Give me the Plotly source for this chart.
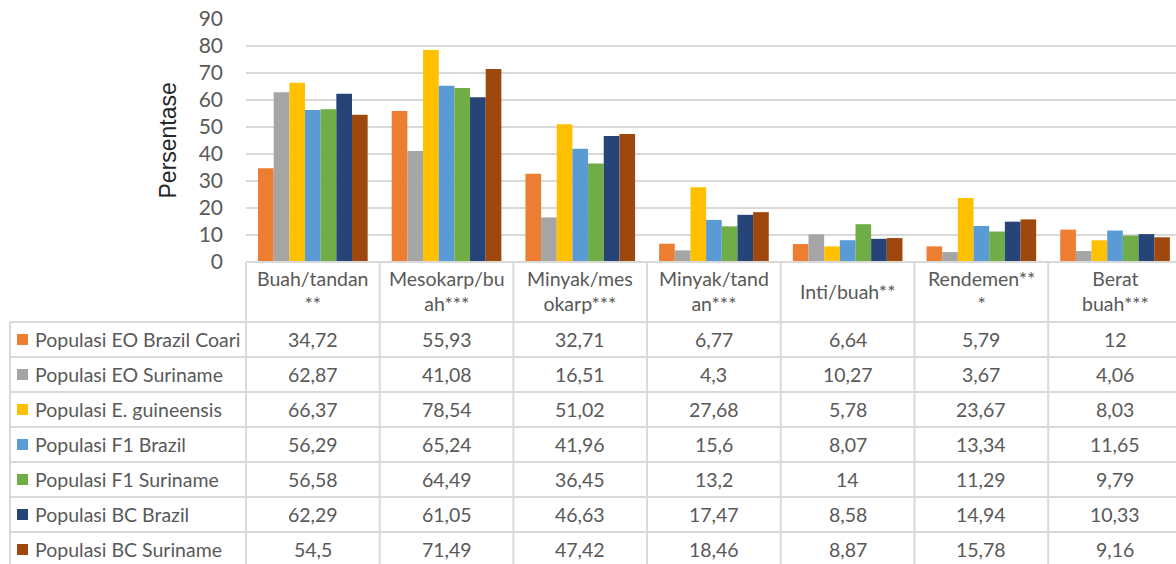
import plotly.graph_objects as go

# Categories (header labels are wrapped as in the data table)
categories = ["Buah/tandan**", "Mesokarp/buah***", "Minyak/mesokarp***",
              "Minyak/tandan***", "Inti/buah**", "Rendemen***", "Berat buah***"]
header_labels = ["Buah/tandan<br>**", "Mesokarp/bu<br>ah***", "Minyak/mes<br>okarp***",
                 "Minyak/tand<br>an***", "Inti/buah**", "Rendemen**<br>*", "Berat<br>buah***"]

series_names = ["Populasi EO Brazil Coari", "Populasi EO Suriname", "Populasi E. guineensis",
                "Populasi F1 Brazil", "Populasi F1 Suriname", "Populasi BC Brazil",
                "Populasi BC Suriname"]

eo_brazil_coari = [34.72, 55.93, 32.71, 6.77, 6.64, 5.79, 12]
eo_suriname = [62.87, 41.08, 16.51, 4.3, 10.27, 3.67, 4.06]
e_guineensis = [66.37, 78.54, 51.02, 27.68, 5.78, 23.67, 8.03]
f1_brazil = [56.29, 65.24, 41.96, 15.6, 8.07, 13.34, 11.65]
f1_suriname = [56.58, 64.49, 36.45, 13.2, 14, 11.29, 9.79]
bc_brazil = [62.29, 61.05, 46.63, 17.47, 8.58, 14.94, 10.33]
bc_suriname = [54.5, 71.49, 47.42, 18.46, 8.87, 15.78, 9.16]

series_values = [eo_brazil_coari, eo_suriname, e_guineensis, f1_brazil,
                 f1_suriname, bc_brazil, bc_suriname]
colors = ["#ED7D31", "#A5A5A5", "#FFC000", "#5B9BD5", "#70AD47", "#264478", "#9E480E"]

y_ticks = [0, 10, 20, 30, 40, 50, 60, 70, 80, 90]

W, H = 1176, 564
FONT = "Lato"
TEXT = "#595959"
GRID = "#D9D9D9"

# pixel geometry of plot area and table
plot_left = 246
col_w = 133.7
plot_top, plot_bottom = 19, 262
header_bottom = 322
row_h = 35
table_left = 10


def px(x):
    return x / W


def py(y):
    return 1 - y / H


fig = go.Figure()
for name, vals, col in zip(series_names, series_values, colors):
    fig.add_trace(go.Bar(x=categories, y=vals, name=name, marker_color=col,
                         marker_line_width=0, showlegend=False))

x_max = -0.5 + (W - plot_left) / col_w

fig.update_layout(
    width=W, height=H,
    margin=dict(l=0, r=0, t=0, b=0, pad=0, autoexpand=False),
    paper_bgcolor="white", plot_bgcolor="white",
    barmode="group", bargap=0.18, bargroupgap=0,
    font=dict(family=FONT, color=TEXT),
    xaxis=dict(domain=[px(plot_left), 1], range=[-0.5, x_max], type="category",
               showticklabels=False, showgrid=False, zeroline=False,
               showline=False, ticks="", automargin=False),
    yaxis=dict(domain=[py(plot_bottom), py(plot_top)], range=[0, 90],
               tickvals=y_ticks, showgrid=True, gridcolor=GRID, gridwidth=1.5,
               zeroline=False, showline=False, ticks="", automargin=False,
               ticklabelstandoff=22,
               tickfont=dict(family=FONT, size=21, color=TEXT)),
)

shapes = []
line = dict(color=GRID, width=2)
# top border of table (category axis line)
shapes.append(dict(type="line", xref="paper", yref="paper",
                   x0=px(plot_left), x1=1, y0=py(plot_bottom), y1=py(plot_bottom), line=line))
# horizontal row lines
n_rows = len(series_names)
for r in range(n_rows):
    y = header_bottom + r * row_h
    shapes.append(dict(type="line", xref="paper", yref="paper",
                       x0=px(table_left), x1=1, y0=py(y), y1=py(y), line=line))
# left border of series column
shapes.append(dict(type="line", xref="paper", yref="paper",
                   x0=px(table_left), x1=px(table_left), y0=py(header_bottom), y1=0, line=line))
# vertical column lines
for k in range(len(categories)):
    x = plot_left + k * col_w
    shapes.append(dict(type="line", xref="paper", yref="paper",
                       x0=px(x), x1=px(x), y0=py(plot_bottom), y1=0, line=line))
# legend keys
for r, col in enumerate(colors):
    yc = header_bottom + r * row_h + row_h / 2
    shapes.append(dict(type="rect", xref="paper", yref="paper",
                       x0=px(17), x1=px(28), y0=py(yc - 5.5), y1=py(yc + 5.5),
                       fillcolor=col, line=dict(width=0)))

annotations = []
# y axis title
annotations.append(dict(text="Persentase", xref="paper", yref="paper",
                        x=px(167), y=py((plot_top + plot_bottom) / 2), textangle=-90,
                        showarrow=False, xanchor="center", yanchor="middle",
                        font=dict(family="Liberation Sans", size=23, color="#262626")))
# header labels
for k, lab in enumerate(header_labels):
    xc = plot_left + (k + 0.5) * col_w
    annotations.append(dict(text=lab, xref="paper", yref="paper",
                            x=px(xc), y=py((plot_bottom + header_bottom) / 2 - 1),
                            showarrow=False, xanchor="center", yanchor="middle",
                            font=dict(family=FONT, size=19.5, color=TEXT)))
# series names and values
for r, (name, vals) in enumerate(zip(series_names, series_values)):
    yc = header_bottom + r * row_h + row_h / 2
    annotations.append(dict(text=name, xref="paper", yref="paper",
                            x=px(33), y=py(yc), showarrow=False,
                            xanchor="left", yanchor="middle",
                            font=dict(family=FONT, size=19.5, color=TEXT)))
    for k, v in enumerate(vals):
        xc = plot_left + (k + 0.5) * col_w
        annotations.append(dict(text=f"{v:g}".replace(".", ","), xref="paper", yref="paper",
                                x=px(xc), y=py(yc), showarrow=False,
                                xanchor="center", yanchor="middle",
                                font=dict(family=FONT, size=19.5, color=TEXT)))

fig.update_layout(shapes=shapes, annotations=annotations)
fig.write_html("out.html")
